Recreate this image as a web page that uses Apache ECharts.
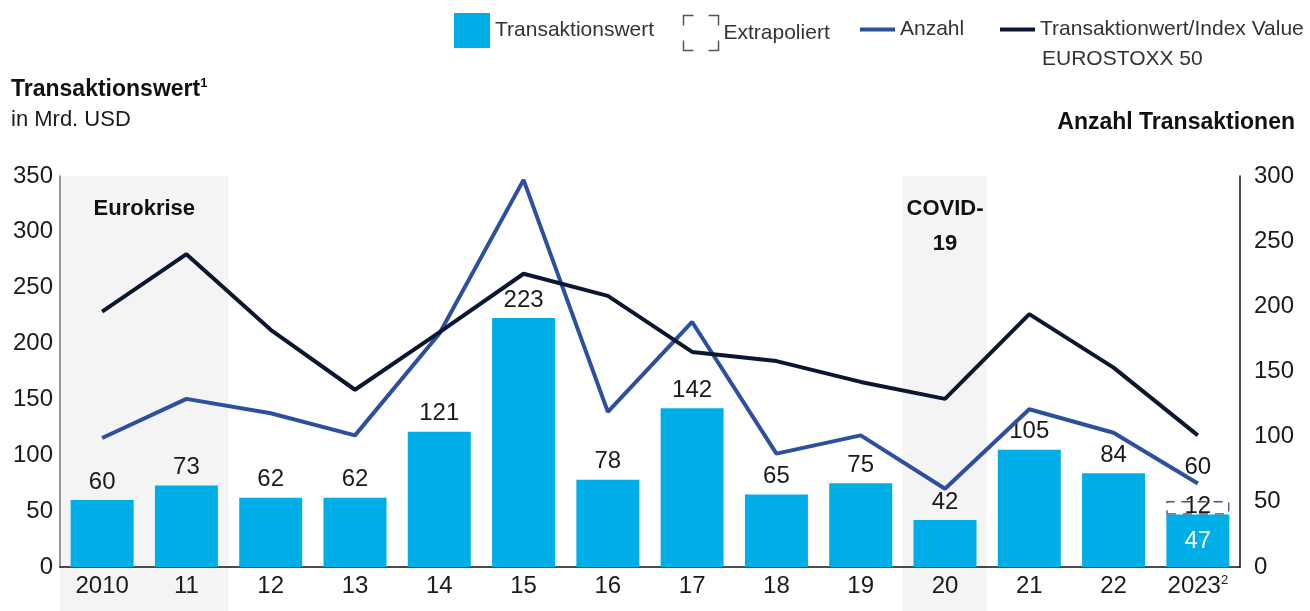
<!DOCTYPE html>
<html>
<head>
<meta charset="utf-8">
<script src="https://cdn.jsdelivr.net/npm/echarts@6/dist/echarts.min.js"></script>
<style>
  html, body { margin: 0; padding: 0; background: #fff; }
  #chart { width: 1310px; height: 611px; }
</style>
</head>
<body>
<div id="chart"></div>
<script>
// data
var years = ['2010', '11', '12', '13', '14', '15', '16', '17', '18', '19', '20', '21', '22', '2023'];
var dealValue = [60, 73, 62, 62, 121, 223, 78, 142, 65, 75, 42, 105, 84, 47];
var extrapolated = [null, null, null, null, null, null, null, null, null, null, null, null, null, 12];
var extrapolatedTotal = [null, null, null, null, null, null, null, null, null, null, null, null, null, 60];
var dealCount = [99, 129, 118, 101, 179, 297, 119, 188, 87, 101, 60, 121, 103, 64];
var valueToIndex = [196, 240, 182, 136, 180, 225, 208, 165, 158, 142, 129, 194, 153, 101];
var leftMax = 350;
var rightMax = 300;
var crises = [
    { label: 'Eurokrise', from: '2010', to: '11' },
    { label: 'COVID-\n19', from: '20', to: '20' }
];

var FONT = 'Liberation Sans, Arial, sans-serif';
var barColor = '#00aee7';
var countColor = '#2c4fa0';
var indexColor = '#0b1730';
var numStyle = { fontFamily: FONT, fontSize: 24, color: '#1a1a1a' };

var chart = echarts.init(document.getElementById('chart'));

var legendText = { fontFamily: FONT, fontSize: 21, color: '#333' };

var option = {
    animation: false,
    textStyle: { fontFamily: FONT },
    title: [
        {
            text: 'Transaktionswert{sup|1}',
            left: 6, top: 72,
            textStyle: {
                fontFamily: FONT, fontSize: 23, fontWeight: 'bold', color: '#111',
                rich: { sup: { fontFamily: FONT, fontSize: 13, fontWeight: 'bold', color: '#111', verticalAlign: 'top', padding: [0, 0, 12, 0] } }
            },
            subtext: 'in Mrd. USD',
            itemGap: 8,
            subtextStyle: { fontFamily: FONT, fontSize: 22, color: '#1a1a1a' }
        },
        {
            text: 'Anzahl Transaktionen',
            right: 10, top: 106,
            textStyle: { fontFamily: FONT, fontSize: 23, fontWeight: 'bold', color: '#111' }
        },
        {
            text: 'EUROSTOXX 50',
            left: 1037, top: 44,
            textStyle: { fontFamily: FONT, fontSize: 21, fontWeight: 'normal', color: '#333' }
        }
    ],
    legend: [
        {
            left: 449, top: 8,
            data: [{ name: 'Transaktionswert', icon: 'rect' }],
            itemWidth: 36, itemHeight: 35,
            textStyle: legendText,
            selectedMode: false
        },
        {
            left: 676, top: 8,
            data: [{
                name: 'Extrapoliert',
                icon: 'path://M0,10V0H10M25,0H35V10M35,25V35H25M10,35H0V25',
                itemStyle: { color: 'none', borderColor: '#555', borderWidth: 1.5, borderType: 'solid' }
            }],
            itemWidth: 35, itemHeight: 35,
            textStyle: legendText,
            selectedMode: false
        },
        {
            left: 855, top: 14,
            data: [{ name: 'Anzahl', icon: 'rect' }],
            itemWidth: 35, itemHeight: 4,
            textStyle: legendText,
            selectedMode: false
        },
        {
            left: 995, top: 14,
            data: [{ name: 'Transaktionwert/Index Value', icon: 'rect' }],
            itemWidth: 35, itemHeight: 4,
            textStyle: legendText,
            selectedMode: false
        }
    ],
    grid: { left: 60, right: 70, top: 176, bottom: 44 },
    xAxis: {
        type: 'category',
        data: years,
        axisTick: { show: false },
        axisLine: { lineStyle: { color: '#111', width: 1.5 } },
        axisLabel: Object.assign({
            margin: 7,
            interval: 0,
            formatter: function (v) { return v === '2023' ? v + '{sup|2}' : v; },
            rich: { sup: { fontFamily: FONT, fontSize: 13, color: '#1a1a1a', verticalAlign: 'top', padding: [0, 0, 12, 0] } }
        }, numStyle)
    },
    yAxis: [
        {
            type: 'value', min: 0, max: leftMax, interval: 50,
            splitLine: { show: false },
            axisTick: { show: false },
            axisLine: { show: true, lineStyle: { color: '#777', width: 1.5 } },
            axisLabel: Object.assign({ margin: 7 }, numStyle)
        },
        {
            type: 'value', min: 0, max: rightMax, interval: 50,
            position: 'right',
            splitLine: { show: false },
            axisTick: { show: false },
            axisLine: { show: true, lineStyle: { color: '#111', width: 1.5 } },
            axisLabel: Object.assign({ margin: 14 }, numStyle)
        }
    ],
    series: [
        {
            name: 'Transaktionswert',
            type: 'bar',
            stack: 'v',
            barWidth: 63,
            itemStyle: { color: barColor },
            label: Object.assign({ show: true, position: 'top', distance: 6 }, numStyle),
            data: dealValue.map(function (v, i) {
                if (extrapolated[i] != null) {
                    return { value: v, label: { position: 'inside', color: '#fff', offset: [0, 1] } };
                }
                return v;
            }),
            z: 2
        },
        {
            name: 'Extrapoliert',
            type: 'bar',
            stack: 'v',
            barWidth: 63,
            itemStyle: { color: 'rgba(0,0,0,0)', borderColor: '#4b4f78', borderWidth: 1.3, borderType: [9, 7] },
            label: Object.assign({ show: true, position: 'inside', offset: [0, -1] }, numStyle),
            data: extrapolated,
            z: 3
        },
        {
            name: 'Summe',
            type: 'bar',
            stack: 'v',
            barWidth: 63,
            itemStyle: { color: 'rgba(0,0,0,0)' },
            label: Object.assign({
                show: true, position: 'top', distance: 22,
                formatter: function (p) { return extrapolatedTotal[p.dataIndex]; }
            }, numStyle),
            data: extrapolatedTotal.map(function (t) { return t == null ? null : 0; }),
            z: 3
        },
        {
            name: 'Anzahl',
            type: 'line',
            yAxisIndex: 1,
            symbol: 'none',
            lineStyle: { color: countColor, width: 4 },
            itemStyle: { color: countColor },
            data: dealCount,
            z: 5
        },
        {
            name: 'Transaktionwert/Index Value',
            type: 'line',
            yAxisIndex: 1,
            symbol: 'none',
            lineStyle: { color: indexColor, width: 4 },
            itemStyle: { color: indexColor },
            data: valueToIndex,
            z: 5
        }
    ]
};

chart.setOption(option);

// crisis bands behind the bars
var step = chart.convertToPixel({ xAxisIndex: 0 }, years[1]) - chart.convertToPixel({ xAxisIndex: 0 }, years[0]);
var bandTop = chart.convertToPixel({ yAxisIndex: 0 }, leftMax);
var elements = [];
crises.forEach(function (c) {
    var x0 = chart.convertToPixel({ xAxisIndex: 0 }, c.from) - step / 2;
    var x1 = chart.convertToPixel({ xAxisIndex: 0 }, c.to) + step / 2;
    elements.push({
        type: 'rect', z: -10, silent: true,
        shape: { x: x0, y: bandTop, width: x1 - x0, height: chart.getHeight() - bandTop },
        style: { fill: '#f4f4f4' }
    });
    elements.push({
        type: 'text', z: 10, silent: true,
        x: (x0 + x1) / 2, y: bandTop + 15,
        style: {
            text: c.label, fontFamily: FONT, fontSize: 22, fontWeight: 'bold', fill: '#111',
            align: 'center', verticalAlign: 'top', lineHeight: 35
        }
    });
});
chart.setOption({ graphic: { elements: elements } });
</script>
</body>
</html>
